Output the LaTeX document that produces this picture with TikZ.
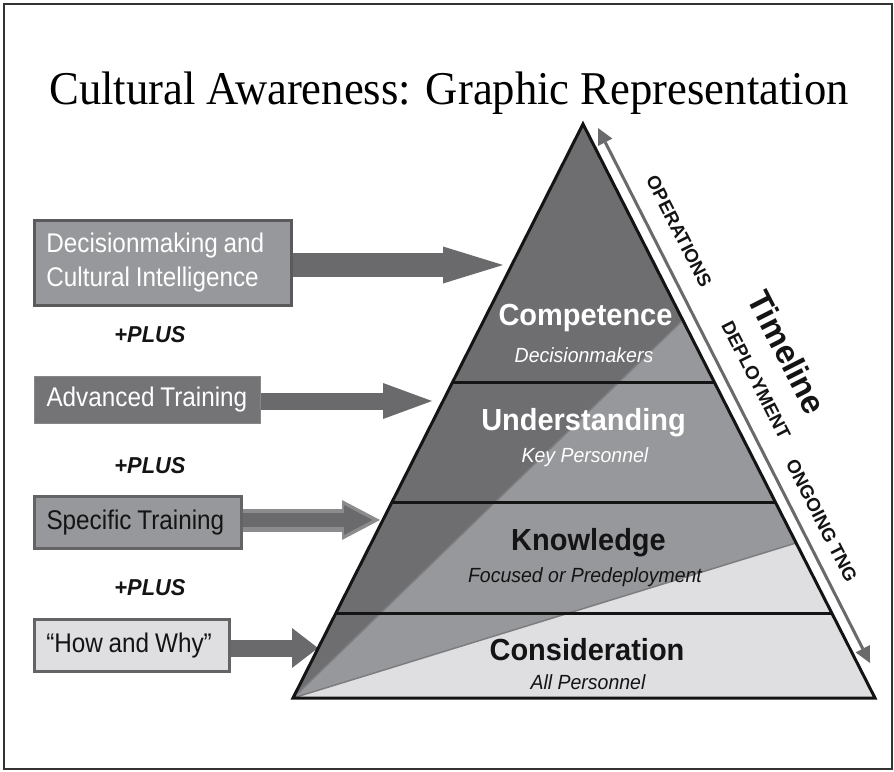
\documentclass[tikz,border=0pt]{standalone}
\usepackage{fontspec}
\setmainfont{Liberation Sans}
\newfontfamily\boxfont[FakeStretch=0.9]{Liberation Sans}
\newfontfamily\pyrfont[FakeStretch=0.95]{Liberation Sans}
\newfontfamily\titlefont[FakeStretch=0.95]{Liberation Serif}
\usetikzlibrary{arrows.meta,calc}
\newcommand\bxsp{\spaceskip=5.8pt\relax}
\definecolor{darkg}{RGB}{110,110,113}
\definecolor{midg}{RGB}{151,152,155}
\definecolor{lightg}{RGB}{223,223,225}
\definecolor{arrowg}{RGB}{106,106,108}
\definecolor{arrowedge}{RGB}{140,140,143}
\definecolor{edgeg}{RGB}{90,90,92}
\definecolor{boxtwo}{RGB}{116,116,119}
\definecolor{boxtwoedge}{RGB}{135,135,138}
\definecolor{boxedge}{RGB}{100,100,102}
\definecolor{diag}{RGB}{125,125,128}
\definecolor{ink}{RGB}{20,20,20}
\begin{document}
\begin{tikzpicture}[x=1pt,y=-1pt,
  box/.style={anchor=north west, rectangle, inner xsep=12pt, inner ysep=0pt, align=left,
    font=\boxfont\fontsize{27}{34}\selectfont},
  plus/.style={anchor=base, font=\pyrfont\bfseries\itshape\fontsize{23}{26}\selectfont, text=ink},
  lvl/.style={anchor=base, font=\pyrfont\bfseries\fontsize{30.5}{34}\selectfont},
  sub/.style={anchor=base, font=\pyrfont\itshape\fontsize{20.5}{24}\selectfont},
  tline/.style={rotate=-63.04, inner sep=0pt, font=\bfseries\fontsize{18.7}{22}\selectfont, text=ink},
]
\useasboundingbox (0,0) rectangle (894,771);
\fill[white] (0,0) rectangle (894,771);
\draw[line width=2pt, black!80] (3.5,4) rectangle (891.5,768.5);

% title
\node[anchor=base, inner sep=0pt, font=\titlefont\fontsize{47}{52}\selectfont, text=black] (title) at (449,104) {Cultural Awareness: Graphic Representation};

% left boxes
\node[box, text width=233pt, minimum height=85pt, fill=midg, draw=edgeg, line width=2.7pt, text=white] (b1) at (33,219) {\bxsp\mbox{Decisionmaking and}\\\mbox{Cultural Intelligence}};
\node[box, text width=202pt, minimum height=47pt, fill=boxtwo, draw=boxtwoedge, line width=1pt, text=white] (b2) at (34,376) {\bxsp\mbox{Advanced Training}};
\node[box, text width=183pt, minimum height=52pt, fill=midg, draw=boxedge, line width=3pt, text=ink] (b3) at (33,495) {\bxsp\mbox{Specific Training}};
\node[box, text width=171pt, minimum height=52pt, fill=lightg, draw=boxedge, line width=2.5pt, text=ink] (b4) at (33,618) {\bxsp\mbox{“How and Why”}};

\node[plus] (p1) at (150,342) {+PLUS};
\node[plus] (p2) at (150,473) {+PLUS};
\node[plus] (p3) at (150,595) {+PLUS};

% block arrows
\coordinate (t1) at (503,265);
\coordinate (t2) at (432,401);
\coordinate (t3) at (380,520);
\coordinate (t3in) at (372.5,520);
\coordinate (t4) at (318,648);
\draw[arrowg, line width=24pt, -{Triangle[length=60pt,width=37pt,line width=0pt]}] (b1.east |- t1) -- (t1);
\draw[arrowg, line width=17pt, -{Triangle[length=49pt,width=36pt,line width=0pt]}] (b2.east |- t2) -- (t2);
\draw[arrowedge, line width=23pt, -{Triangle[length=38pt,width=40pt,line width=0pt]}] (b3.east |- t3) -- (t3);
\draw[arrowg, line width=14pt, -{Triangle[length=28.5pt,width=30pt,line width=0pt]}] (b3.east |- t3in) -- (t3in);
\draw[arrowg, line width=17pt, -{Triangle[length=26pt,width=40pt,line width=0pt]}] (b4.east |- t4) -- (t4);

% pyramid
\coordinate (apex) at (583,124);
\coordinate (bl) at (293,698);
\coordinate (br) at (875,698);
\coordinate (da) at (683,320);
\coordinate (db) at (796,543);
\fill[darkg] (apex) -- (bl) -- (da) -- cycle;
\fill[midg] (da) -- (bl) -- (db) -- cycle;
\fill[lightg] (db) -- (bl) -- (br) -- cycle;
\draw[diag, line width=1.5pt] (bl) -- (da) (bl) -- (db);
\begin{scope}
  \clip (apex) -- (bl) -- (br) -- cycle;
  \draw[ink, line width=3pt] (280,382) -- (890,382) (280,502) -- (890,502) (280,613) -- (890,613);
\end{scope}
\draw[ink, line width=3pt, line join=miter] (apex) -- (bl) -- (br) -- cycle;

% level texts
\node[lvl, text=white] (comp) at (585.5,325) {Competence};
\node[sub, text=white] (compsub) at (584,362) {Decisionmakers};
\node[lvl, text=white] (und) at (583.5,430) {Understanding};
\node[sub, text=white] (undsub) at (585,462) {Key Personnel};
\node[lvl, text=ink] (know) at (588.5,550) {Knowledge};
\node[sub, text=ink] (knowsub) at (585,582) {Focused or Predeployment};
\node[lvl, text=ink] (cons) at (587,660) {Consideration};
\node[sub, text=ink] (conssub) at (588,689) {All Personnel};

% timeline
\coordinate (ta) at (598,128);
\coordinate (tb) at (870,663);
\draw[arrowg, line width=3pt, {Triangle[length=16pt,width=16pt,line width=0pt]}-{Triangle[length=16pt,width=16pt,line width=0pt]}] (ta) -- (tb);
\node[tline] (ops) at (679,231.5) {OPERATIONS};
\node[tline] (dep) at (756,380) {DEPLOYMENT};
\node[tline] (ong) at (821.7,520.8) {ONGOING TNG};
\node[tline, font=\bfseries\fontsize{33}{36}\selectfont] (tl) at (787.5,352.5) {Timeline};
\end{tikzpicture}
\end{document}
